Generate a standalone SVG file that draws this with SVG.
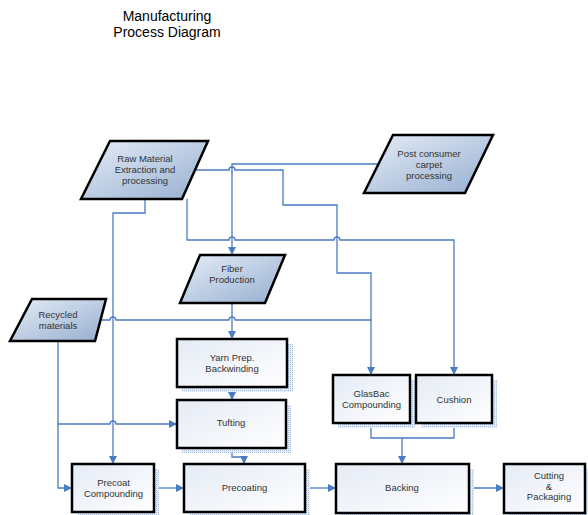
<svg xmlns="http://www.w3.org/2000/svg" width="588" height="515" viewBox="0 0 588 515">
<defs>
<linearGradient id="gBox" x1="0" y1="0" x2="1" y2="1">
<stop offset="0" stop-color="#e4eaf5"/>
<stop offset="1" stop-color="#ffffff"/>
</linearGradient>
<linearGradient id="gPar" x1="0" y1="0" x2="1" y2="1">
<stop offset="0" stop-color="#e6edf7"/>
<stop offset="1" stop-color="#95aed0"/>
</linearGradient>
<pattern id="hatch" width="2" height="2" patternUnits="userSpaceOnUse">
<rect width="2" height="2" fill="#e8eef8"/>
<rect width="1" height="1" fill="#a9bfe0"/>
</pattern>
<marker id="arr" markerWidth="9" markerHeight="9" refX="8" refY="4" orient="auto" markerUnits="userSpaceOnUse">
<path d="M0,0 L8,4 L0,8 z" fill="#4a7bc4"/>
</marker>
</defs>
<style>
.box{fill:url(#gBox);stroke:#000;stroke-width:2.5}
.par{fill:url(#gPar);stroke:#000;stroke-width:2.5;stroke-linejoin:miter}
.sh{fill:url(#hatch)}
.t{font-family:"Liberation Sans",Arial,sans-serif;font-size:9.5px;fill:#333;text-anchor:middle}
.title{font-family:"Liberation Sans",Arial,sans-serif;font-size:14px;fill:#000;text-anchor:middle}
.c{fill:none;stroke:#4a7bc4;stroke-width:1.3}
.a{marker-end:url(#arr)}
</style>
<rect width="588" height="515" fill="#fff"/>
<text class="title" x="167" y="21">Manufacturing</text>
<text class="title" x="167" y="37">Process Diagram</text>

<g id="connectors">
<path class="c a" d="M194,170 H229 a3,3 0 0 1 6,0 H283 V205 H337 V273 H371 V375"/>
<path class="c a" d="M187,199 V240 H229 a3,3 0 0 1 6,0 H334 a3,3 0 0 1 6,0 H454 V375"/>
<path class="c a" d="M380,164 H232 V255"/>
<path class="c a" d="M145,199 V213 H113 V464"/>
<path class="c" d="M95,320 H110 a3,3 0 0 1 6,0 H229 a3,3 0 0 1 6,0 H371"/>
<path class="c a" d="M232,303 V339"/>
<path class="c a" d="M58,341 V488 H72"/>
<path class="c a" d="M58,424 H110 a3,3 0 0 1 6,0 H177"/>
<path class="c a" d="M232,387 V400"/>
<path class="c a" d="M232,448 V457 H244 V464"/>
<path class="c a" d="M154,488 H184"/>
<path class="c a" d="M305,488 H336"/>
<path class="c" d="M371,423 V438 H454 V423"/>
<path class="c a" d="M402,438 V464"/>
<path class="c a" d="M469,488 H504"/>
</g>

<g id="raw">
<polygon class="par" points="110,141 208,141 182,199 81,199"/>
<text class="t" x="145" y="162">Raw Material</text>
<text class="t" x="145" y="173">Extraction and</text>
<text class="t" x="145" y="184">processing</text>
</g>
<g id="post">
<polygon class="par" points="393,135 493,135 465,193 364,193"/>
<text class="t" x="429" y="157">Post consumer</text>
<text class="t" x="429" y="168">carpet</text>
<text class="t" x="429" y="179">processing</text>
</g>
<g id="fiber">
<polygon class="par" points="200,255 285,255 265,303 180,303"/>
<text class="t" x="232" y="272">Fiber</text>
<text class="t" x="232" y="283">Production</text>
</g>
<g id="recycled">
<polygon class="par" points="32,299 106,299 95,341 10,341"/>
<text class="t" x="58" y="318">Recycled</text>
<text class="t" x="58" y="329">materials</text>
</g>
<g id="yarn">
<rect class="sh" x="182" y="344" width="111" height="48"/>
<rect class="box" x="177" y="339" width="110" height="48"/>
<text class="t" x="232" y="361">Yarn Prep.</text>
<text class="t" x="232" y="372">Backwinding</text>
</g>
<g id="tufting">
<rect class="sh" x="182" y="405" width="109" height="48"/>
<rect class="box" x="177" y="400" width="109" height="48"/>
<text class="t" x="231" y="426">Tufting</text>
</g>
<g id="glasbac">
<rect class="sh" x="338" y="380" width="77" height="48"/>
<rect class="box" x="333" y="375" width="77" height="48"/>
<text class="t" x="371.5" y="397">GlasBac</text>
<text class="t" x="371.5" y="408">Compounding</text>
</g>
<g id="cushion">
<rect class="sh" x="421" y="380" width="76" height="48"/>
<rect class="box" x="416" y="375" width="76" height="48"/>
<text class="t" x="454" y="403">Cushion</text>
</g>
<g id="precoat-compounding">
<rect class="sh" x="77" y="469" width="82" height="48"/>
<rect class="box" x="72" y="464" width="82" height="48"/>
<text class="t" x="113.5" y="486">Precoat</text>
<text class="t" x="113.5" y="497">Compounding</text>
</g>
<g id="precoating">
<rect class="sh" x="189" y="469" width="121" height="48"/>
<rect class="box" x="184" y="464" width="121" height="48"/>
<text class="t" x="244.5" y="491">Precoating</text>
</g>
<g id="backing">
<rect class="sh" x="341" y="469" width="133" height="49"/>
<rect class="box" x="336" y="464" width="133" height="49"/>
<text class="t" x="402" y="491">Backing</text>
</g>
<g id="cutting">
<rect class="sh" x="509" y="469" width="81" height="49"/>
<rect class="box" x="504" y="464" width="81" height="49"/>
<text class="t" x="549" y="479">Cutting</text>
<text class="t" x="549" y="489.5">&amp;</text>
<text class="t" x="549" y="500">Packaging</text>
</g>
</svg>
